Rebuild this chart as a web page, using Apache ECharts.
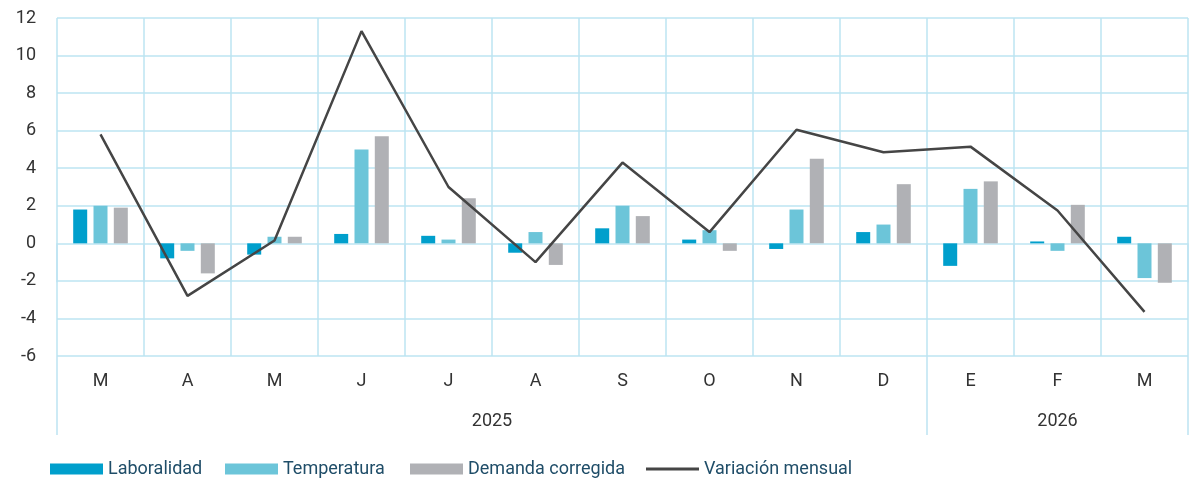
<!DOCTYPE html>
<html>
<head>
<meta charset="utf-8">
<script src="https://cdn.jsdelivr.net/npm/echarts@6/dist/echarts.min.js"></script>
<style>
  html, body { margin: 0; padding: 0; background: #fff; }
  #main { width: 1198px; height: 479px; }
</style>
</head>
<body>
<div id="main"></div>
<script>
var months = ['M', 'A', 'M', 'J', 'J', 'A', 'S', 'O', 'N', 'D', 'E', 'F', 'M'];
var years = ['2025', '2026'];
var yearMonths = [10, 3];

var laboralidad = [1.8, -0.8, -0.6, 0.5, 0.4, -0.5, 0.8, 0.2, -0.3, 0.6, -1.2, 0.1, 0.35];
var temperatura = [2.0, -0.4, 0.35, 5.0, 0.2, 0.6, 2.0, 0.7, 1.8, 1.0, 2.9, -0.4, -1.85];
var demanda = [1.9, -1.6, 0.35, 5.7, 2.4, -1.15, 1.45, -0.4, 4.5, 3.15, 3.3, 2.05, -2.1];
var variacion = [5.8, -2.8, 0.15, 11.3, 3.0, -1.0, 4.3, 0.6, 6.05, 4.85, 5.15, 1.75, -3.65];

// half-month slots for the year row: ticks at year boundaries, label in the middle
var yearSlots = [];
var yearTickIdx = [0];
var yearLabelIdx = {};
var pos = 0;
for (var i = 0; i < years.length; i++) {
    yearLabelIdx[pos + yearMonths[i]] = years[i];
    pos += yearMonths[i] * 2;
    yearTickIdx.push(pos);
}
for (var k = 0; k <= pos; k++) {
    yearSlots.push(yearLabelIdx[k] || '');
}

var font = 'Roboto, sans-serif';
var gridColor = '#bde4f2';
var legendText = { color: '#1f4d68', fontSize: 18, fontFamily: font };

function makeLegend(name, left, h, icon) {
    return {
        left: left,
        top: 455,
        itemWidth: 53,
        itemHeight: h,
        icon: icon,
        textStyle: legendText,
        data: [name]
    };
}

var myChart = echarts.init(document.getElementById('main'));
var option = {
    animation: false,
    textStyle: { fontFamily: font },
    grid: { left: 57, right: 10, top: 18, bottom: 123 },
    legend: [
        makeLegend('Laboralidad', 45, 11, 'rect'),
        makeLegend('Temperatura', 220, 11, 'rect'),
        makeLegend('Demanda corregida', 405, 11, 'rect'),
        makeLegend('Variación mensual', 641, 3, 'rect')
    ],
    xAxis: [
        {
            type: 'category',
            position: 'bottom',
            data: months,
            boundaryGap: true,
            axisLine: { show: false },
            axisTick: { show: true, interval: 0, length: 39, lineStyle: { color: gridColor, width: 1.5 } },
            axisLabel: { interval: 0, margin: 16, color: '#333', fontSize: 18, fontFamily: font },
            splitLine: { show: true, interval: 0, lineStyle: { color: gridColor, width: 1.5 } }
        },
        {
            type: 'category',
            position: 'bottom',
            offset: 0,
            data: yearSlots,
            boundaryGap: false,
            axisLine: { show: false },
            axisTick: {
                show: true,
                length: 79,
                interval: function (idx) { return yearTickIdx.indexOf(idx) >= 0; },
                lineStyle: { color: gridColor, width: 1.5 }
            },
            axisLabel: {
                margin: 56,
                color: '#333',
                fontSize: 18,
                fontFamily: font,
                interval: function (idx, val) { return val !== ''; }
            },
            splitLine: { show: false }
        }
    ],
    yAxis: {
        type: 'value',
        min: -6,
        max: 12,
        interval: 2,
        axisLine: { show: false },
        axisTick: { show: false },
        axisLabel: { margin: 21, color: '#333', fontSize: 18, fontFamily: font },
        splitLine: { lineStyle: { color: gridColor, width: 1.5 } }
    },
    series: [
        {
            name: 'Laboralidad',
            type: 'bar',
            data: laboralidad,
            barWidth: 14,
            barGap: '45%',
            itemStyle: { color: '#009fcc' }
        },
        {
            name: 'Temperatura',
            type: 'bar',
            data: temperatura,
            barWidth: 14,
            barGap: '45%',
            itemStyle: { color: '#6cc5d9' }
        },
        {
            name: 'Demanda corregida',
            type: 'bar',
            data: demanda,
            barWidth: 14,
            barGap: '45%',
            itemStyle: { color: '#b0b1b5' }
        },
        {
            name: 'Variación mensual',
            type: 'line',
            data: variacion,
            symbol: 'none',
            z: 5,
            lineStyle: { color: '#454545', width: 2.5 },
            itemStyle: { color: '#454545' }
        }
    ]
};
myChart.setOption(option);
</script>
</body>
</html>
